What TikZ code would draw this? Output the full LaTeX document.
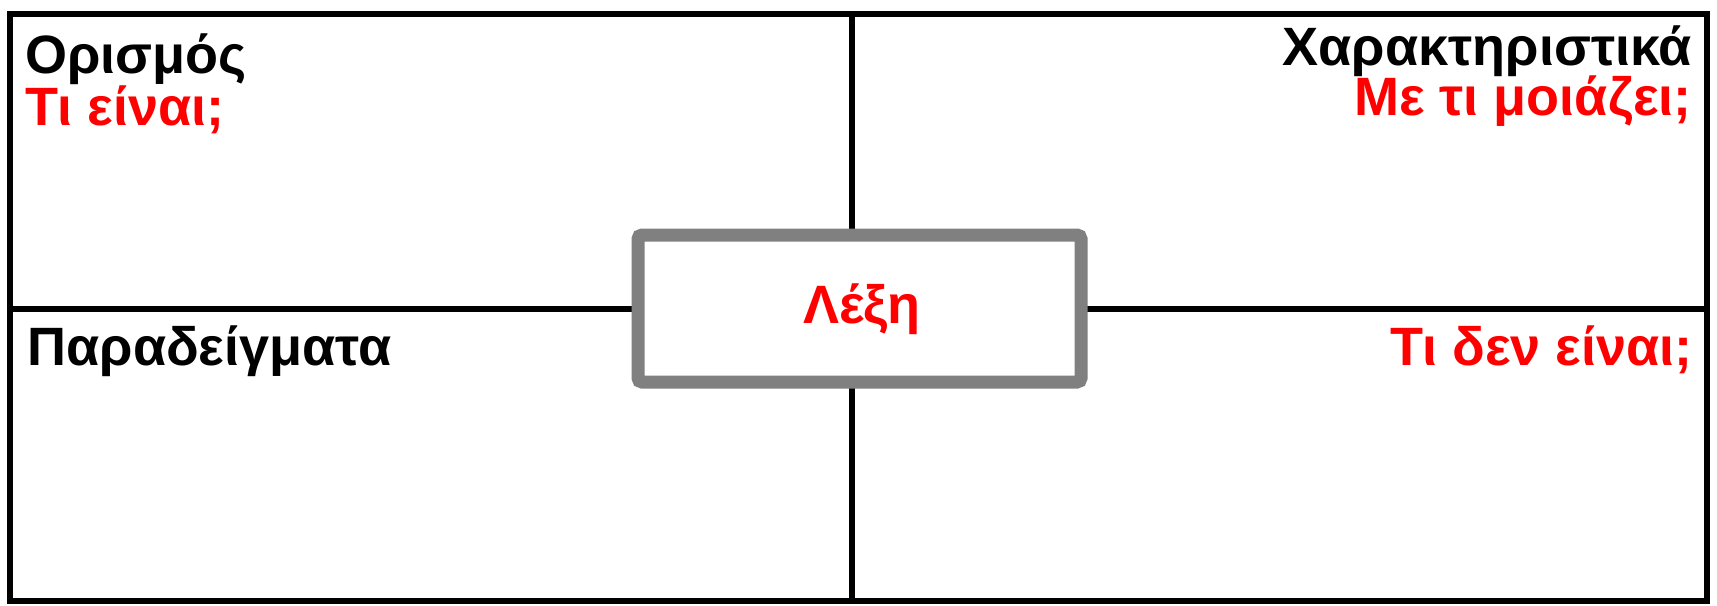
\documentclass[tikz,border=0pt]{standalone}
\usepackage{fontspec}
\setmainfont{Liberation Sans}
\begin{document}
\begin{tikzpicture}[x=0.5pt,y=-0.5pt,
  frame/.style={line width=3pt,black},
  divider/.style={line width=3.2pt,black},
  wordbox/.style={draw=gray!100,line width=6.5pt,rounded corners=2pt,fill=white,
    minimum width=221.5pt,minimum height=73.5pt,inner sep=0pt},
  heading/.style={inner sep=0pt,font=\fontsize{27}{27}\selectfont\bfseries,text=black},
  question/.style={inner sep=0pt,font=\fontsize{27}{27}\selectfont\bfseries,text=red}]
\useasboundingbox (0,0) rectangle (1717,605);
\fill[white] (0,0) rectangle (1717,605);
% frame corners
\coordinate (tl) at (10,14);
\coordinate (br) at (1707,601);
\coordinate (tm) at (852,14);
\coordinate (bm) at (852,601);
\coordinate (lm) at (10,309);
\coordinate (rm) at (1707,309);
% dividers
\draw[divider] (tm) -- (bm);
\draw[divider] (lm) -- (rm);
\draw[frame] (tl) rectangle (br);
% centre box
\node[wordbox] (box) at (859.5,308.5) {};
\node[question,anchor=base] (word) at (862,323) {Λέξη};
% texts
\node[heading,anchor=base west] (def) at (25,73) {Ορισμός};
\node[question,anchor=base west] (defq) at (25,125) {Τι είναι;};
\node[heading,anchor=base east,text depth=0pt] (char) at (1692,65) {Χαρακτηριστικά};
\node[question,anchor=base east,text height=0.72em] (charq) at (1692,115) {Με τι μοιάζει;};
\node[heading,anchor=base west] (ex) at (27,365) {Παραδείγματα};
\node[question,anchor=base east] (nonq) at (1693,365) {Τι δεν είναι;};
\end{tikzpicture}
\end{document}
